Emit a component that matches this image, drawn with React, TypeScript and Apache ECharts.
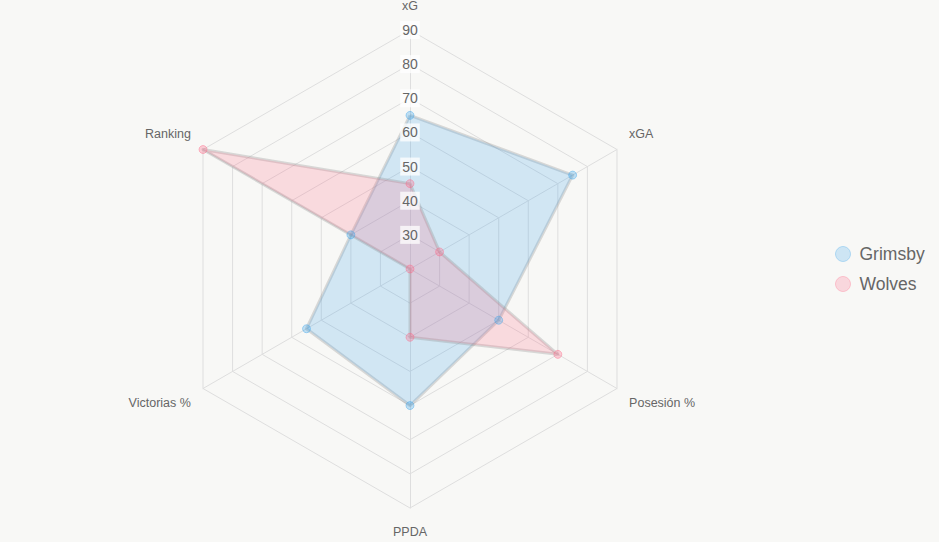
import React, { useEffect, useRef } from "react";
import * as echarts from "echarts";

const indicators = ["xG", "xGA", "Posesión %", "PPDA", "Victorias %", "Ranking"];
const seriesNames = ["Grimsby", "Wolves"];
const grimsby = [65, 75, 50, 60, 55, 40];
const wolves = [45, 30, 70, 40, 20, 90];
const scaleMin = 20;
const scaleMax = 90;
const scaleStep = 10;

// ECharts radar runs counter-clockwise; reorder so the axes run clockwise from the top.
const order = [0, 5, 4, 3, 2, 1];
const clockwise = <T,>(arr: T[]) => order.map((i) => arr[i]);

export default function App() {
  const ref = useRef<HTMLDivElement>(null);
  useEffect(() => {
    document.body.style.margin = "0";
    const chart = echarts.init(ref.current!, null, { renderer: "svg" });
    const center = [410, 269];
    const radius = 239;
    const font = "'Liberation Sans', Arial, Helvetica, sans-serif";
    const nameStyle = { color: "#666", fontSize: 12.5, fontFamily: font };
    const posOf = (idx: number) => {
      if (idx === 0) return "t";
      if (idx === 3) return "b";
      if (idx === 1 || idx === 5) return "u";
      return "d";
    };
    const names = clockwise(indicators);
    chart.setOption({
      animation: false,
      backgroundColor: "#f8f8f6",
      textStyle: { fontFamily: font },
      legend: {
        orient: "vertical",
        left: 830,
        top: 240,
        icon: "circle",
        itemWidth: 15,
        itemHeight: 15,
        itemGap: 12,
        textStyle: { color: "#666", fontSize: 17.5, fontFamily: font, padding: [0, 0, 0, 4] },
        data: [
          { name: seriesNames[0], itemStyle: { color: "rgba(54,162,235,0.22)", borderColor: "rgba(54,162,235,0.3)", borderWidth: 1 } },
          { name: seriesNames[1], itemStyle: { color: "rgba(255,99,132,0.22)", borderColor: "rgba(255,99,132,0.3)", borderWidth: 1 } },
        ],
      },
      radar: {
        center,
        radius,
        startAngle: 90,
        shape: "polygon",
        splitNumber: (scaleMax - scaleMin) / scaleStep,
        indicator: names.map((n) => ({ name: n, min: scaleMin, max: scaleMax })),
        axisName: {
          ...nameStyle,
          formatter: (name: string) => `{${posOf(names.indexOf(name))}|${name}}`,
          rich: {
            t: { ...nameStyle, padding: [0, 0, 4, 0] },
            b: { ...nameStyle, padding: [3, 0, 0, 0] },
            u: { ...nameStyle, padding: [0, 0, 18, 0] },
            d: { ...nameStyle, padding: [15, 0, 0, 0] },
          },
        },
        nameGap: 14,
        splitLine: { lineStyle: { color: "#dedede", width: 1 } },
        axisLine: { lineStyle: { color: "#dedede", width: 1 } },
        splitArea: { show: false },
        axisLabel: { show: false },
      },
      polar: { center, radius },
      angleAxis: { show: false, startAngle: 90, min: 0, max: 360 },
      radiusAxis: {
        min: scaleMin,
        max: scaleMax,
        interval: scaleStep,
        z: 20,
        axisLine: { show: false },
        axisTick: { show: false },
        splitLine: { show: false },
        axisLabel: {
          showMinLabel: false,
          color: "#666",
          fontSize: 14,
          fontFamily: font,
          align: "center",
          verticalAlign: "middle",
          margin: 0,
          rotate: 0,
          backgroundColor: "rgba(255,255,255,0.75)",
          padding: [2, 2],
        },
      },
      series: [
        {
          type: "radar",
          z: 2,
          symbol: "circle",
          symbolSize: 8,
          data: [
            {
              name: seriesNames[0],
              value: clockwise(grimsby),
              itemStyle: { color: "rgba(54,162,235,0.3)", borderColor: "rgba(54,162,235,0.4)", borderWidth: 1 },
              lineStyle: { color: "rgba(140,140,140,0.3)", width: 3 },
              areaStyle: { color: "rgba(54,162,235,0.2)", opacity: 1 },
            },
            {
              name: seriesNames[1],
              value: clockwise(wolves),
              itemStyle: { color: "rgba(255,99,132,0.3)", borderColor: "rgba(255,99,132,0.4)", borderWidth: 1 },
              lineStyle: { color: "rgba(140,140,140,0.3)", width: 3 },
              areaStyle: { color: "rgba(255,99,132,0.2)", opacity: 1 },
            },
          ],
        },
        { type: "scatter", coordinateSystem: "polar", data: [], silent: true },
      ],
    });
    return () => chart.dispose();
  }, []);
  return <div ref={ref} style={{ width: 939, height: 542 }} />;
}
